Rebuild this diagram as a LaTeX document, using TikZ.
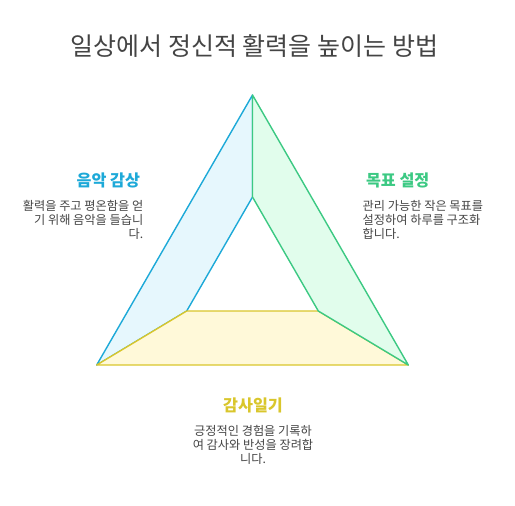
\documentclass[tikz,border=0pt]{standalone}
\usepackage{fontspec}
\setmainfont{Noto Sans CJK KR}
\definecolor{bluel}{HTML}{1DA9D8}
\definecolor{bluef}{HTML}{E6F7FD}
\definecolor{greenl}{HTML}{3CC983}
\definecolor{greenf}{HTML}{E1FDEC}
\definecolor{yell}{HTML}{D9C62C}
\definecolor{yelf}{HTML}{FFF9D9}
\definecolor{txt}{HTML}{444444}
\tikzset{
  head/.style={font=\fontsize{16.2}{19}\selectfont\bfseries},
  body/.style={font=\fontsize{12.2}{14}\selectfont, text=txt, inner sep=0pt},
  side/.style={line width=1.4pt, line join=round}
}
\begin{document}
\begin{tikzpicture}[x=1pt,y=-1pt]
  \useasboundingbox (0,0) rectangle (515,506);
  % outer and inner corners
  \coordinate (A) at (252.5,95);
  \coordinate (B) at (96.7,365);
  \coordinate (C) at (408.3,365);
  \coordinate (a) at (252.5,197);
  \coordinate (b) at (186.7,311);
  \coordinate (c) at (318.3,311);
  \draw[side,bluel,fill=bluef] (A) -- (B) -- (b) -- (a) -- cycle;
  \draw[side,yell,fill=yelf] (B) -- (C) -- (c) -- (b) -- cycle;
  \draw[side,greenl,fill=greenf] (A) -- (C) -- (c) -- (a) -- cycle;
  % title
  \node[font=\fontsize{25}{29}\selectfont, text=txt] (title) at (254.5,46) {일상에서 정신적 활력을 높이는 방법};
  % left
  \node[head,text=bluel,anchor=east] (music) at (143.5,180) {음악 감상};
  \node[body,anchor=east,align=right] (musictxt) at (143.5,220) {활력을 주고 평온함을 얻\\기 위해 음악을 들습니\\다.};
  % right
  \node[head,text=greenl,anchor=west] (goal) at (362.5,180) {목표 설정};
  \node[body,anchor=west,align=left] (goaltxt) at (362.5,220) {관리 가능한 작은 목표를\\설정하여 하루를 구조화\\합니다.};
  % bottom
  \node[head,text=yell] (diary) at (253,405) {감사일기};
  \node[body,align=center] (diarytxt) at (253,445) {긍정적인 경험을 기록하\\여 감사와 반성을 장려합\\니다.};
\end{tikzpicture}
\end{document}
